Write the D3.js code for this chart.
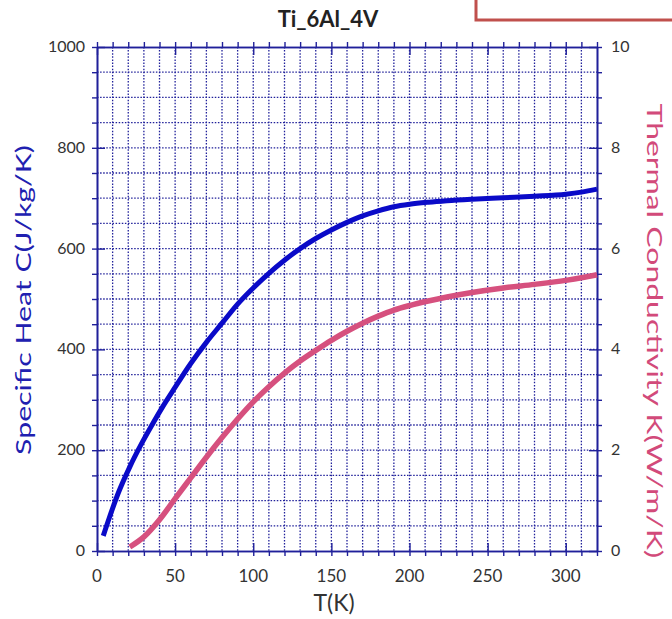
<!DOCTYPE html>
<html>
<head>
<meta charset="utf-8">
<script src="https://cdn.jsdelivr.net/npm/d3@7"></script>
<style>
  body { margin: 0; background: #fff; }
  text { font-family: Lato, "Open Sans", sans-serif; }
</style>
</head>
<body>
<div id="wrapper"></div>
<script>
// Ti_6Al_4V specific heat and thermal conductivity vs temperature
const heatT = [4, 8, 14, 21, 28, 35, 42, 49, 60, 70, 80, 90, 100, 110, 120, 130, 140, 150, 160, 170, 180, 190, 200, 212, 224, 240, 260, 280, 300, 310, 320]
const heatC = [30, 67, 118, 167, 210, 249, 286, 320, 372, 414, 452, 490, 522, 551, 577, 600, 620, 637, 652, 665, 675, 683, 688, 692, 695, 698, 701, 704, 708, 712, 718]

const condT = [21, 30, 40, 50, 60, 70, 80, 90, 100, 110, 120, 130, 140, 150, 160, 170, 180, 190, 200, 212, 224, 240, 260, 280, 300, 310, 320]
const condK = [0.08, 0.28, 0.62, 1.04, 1.45, 1.86, 2.25, 2.62, 2.96, 3.26, 3.53, 3.77, 3.98, 4.18, 4.36, 4.52, 4.66, 4.78, 4.87, 4.96, 5.04, 5.13, 5.22, 5.29, 5.37, 5.42, 5.48]

const xTicks = [0, 50, 100, 150, 200, 250, 300]
const yLeftTicks = [0, 200, 400, 600, 800, 1000]
const yRightTicks = [0, 2, 4, 6, 8, 10]

const heatData = heatT.map((t, i) => ({t: t, v: heatC[i]}))
const condData = condT.map((t, i) => ({t: t, v: condK[i]}))

let dimensions = {
  width: 672,
  height: 619,
  margin: {
    top: 47,
    right: 75,
    bottom: 68,
    left: 97,
  },
}
dimensions.boundedWidth = dimensions.width
  - dimensions.margin.left
  - dimensions.margin.right
dimensions.boundedHeight = dimensions.height
  - dimensions.margin.top
  - dimensions.margin.bottom

const navy = "#20209a"

const wrapper = d3.select("#wrapper")
  .append("svg")
    .attr("width", dimensions.width)
    .attr("height", dimensions.height)

// clipped legend box in the top right corner
wrapper.append("rect")
  .attr("x", 476).attr("y", -20)
  .attr("width", 240).attr("height", 40)
  .attr("fill", "none")
  .attr("stroke", "#c0504d")
  .attr("stroke-width", 3)

wrapper.append("text")
  .attr("x", 328).attr("y", 27)
  .attr("text-anchor", "middle")
  .style("font-size", "22px")
  .style("font-weight", "bold")
  .attr("fill", "#222")
  .text("Ti_6Al_4V")

const bounds = wrapper.append("g")
  .attr("transform", `translate(${dimensions.margin.left},${dimensions.margin.top})`)

const xScale = d3.scaleLinear()
  .domain([0, 320])
  .range([0, dimensions.boundedWidth])

const yLeft = d3.scaleLinear()
  .domain([0, 1000])
  .range([dimensions.boundedHeight, 0])

const yRight = d3.scaleLinear()
  .domain([0, 10])
  .range([dimensions.boundedHeight, 0])

// dotted grid
const gridX = d3.range(10, 320, 10)
const gridY = d3.range(50, 1000, 50)

bounds.append("g").selectAll("line")
  .data(gridX)
  .join("line")
    .attr("x1", d => xScale(d)).attr("x2", d => xScale(d))
    .attr("y1", 0).attr("y2", dimensions.boundedHeight)
    .attr("stroke", navy)
    .attr("stroke-width", 1.3)
    .attr("stroke-dasharray", "1.5,1.6")

bounds.append("g").selectAll("line")
  .data(gridY)
  .join("line")
    .attr("y1", d => yLeft(d)).attr("y2", d => yLeft(d))
    .attr("x1", 0).attr("x2", dimensions.boundedWidth)
    .attr("stroke", navy)
    .attr("stroke-width", 1.3)
    .attr("stroke-dasharray", "1.5,1.6")

// axes: minor ticks outside, major ticks inside
function styleAxis(g) {
  g.select(".domain").attr("stroke", navy).attr("stroke-width", 1.6)
  g.selectAll(".tick line").attr("stroke", navy).attr("stroke-width", 1.4)
  g.selectAll(".tick text").remove()
}

const xMinor = d3.range(0, 321, 10)
const yMinor = d3.range(0, 1001, 50)
const yRMinor = d3.range(0, 10.01, 0.5)

bounds.append("g")
  .attr("transform", `translate(0,${dimensions.boundedHeight})`)
  .call(d3.axisBottom(xScale).tickValues(xMinor).tickSize(5).tickSizeOuter(0))
  .call(styleAxis)
bounds.append("g")
  .attr("transform", `translate(0,${dimensions.boundedHeight})`)
  .call(d3.axisTop(xScale).tickValues(xTicks).tickSize(8).tickSizeOuter(0))
  .call(styleAxis)
bounds.append("g")
  .call(d3.axisTop(xScale).tickValues(xMinor).tickSize(5).tickSizeOuter(0))
  .call(styleAxis)
bounds.append("g")
  .call(d3.axisBottom(xScale).tickValues(xTicks).tickSize(8).tickSizeOuter(0))
  .call(styleAxis)

bounds.append("g")
  .call(d3.axisLeft(yLeft).tickValues(yMinor).tickSize(5).tickSizeOuter(0))
  .call(styleAxis)
bounds.append("g")
  .call(d3.axisRight(yLeft).tickValues(yLeftTicks).tickSize(8).tickSizeOuter(0))
  .call(styleAxis)
bounds.append("g")
  .attr("transform", `translate(${dimensions.boundedWidth},0)`)
  .call(d3.axisRight(yRight).tickValues(yRMinor).tickSize(5).tickSizeOuter(0))
  .call(styleAxis)
bounds.append("g")
  .attr("transform", `translate(${dimensions.boundedWidth},0)`)
  .call(d3.axisLeft(yRight).tickValues(yRightTicks).tickSize(8).tickSizeOuter(0))
  .call(styleAxis)

// tick labels
bounds.append("g").selectAll("text")
  .data(xTicks)
  .join("text")
    .attr("x", d => xScale(d))
    .attr("y", dimensions.boundedHeight + 31)
    .attr("text-anchor", "middle")
    .style("font-size", "17px")
    .attr("fill", "#333")
    .text(d => d)

bounds.append("g").selectAll("text")
  .data(yLeftTicks)
  .join("text")
    .attr("x", -12)
    .attr("y", d => yLeft(d) + 5)
    .attr("text-anchor", "end")
    .style("font-size", "16px")
    .attr("fill", "#333")
    .text(d => d)

bounds.append("g").selectAll("text")
  .data(yRightTicks)
  .join("text")
    .attr("x", dimensions.boundedWidth + 14)
    .attr("y", d => yRight(d) + 5)
    .attr("text-anchor", "start")
    .style("font-size", "16px")
    .attr("fill", "#333")
    .text(d => d)

// axis titles (stretched along their length like the reference)
wrapper.append("text")
  .attr("x", 334).attr("y", 611)
  .attr("text-anchor", "middle")
  .style("font-size", "23px")
  .attr("fill", "#333")
  .text("T(K)")

function stretchedLabel(cx, cy, angle, len, color, label) {
  const g = wrapper.append("g")
    .attr("transform", `translate(${cx},${cy}) rotate(${angle})`)
  const t = g.append("text")
    .attr("text-anchor", "middle")
    .style("font-size", "21px")
    .attr("fill", color)
    .text(label)
  const w = t.node().getComputedTextLength()
  t.attr("transform", `scale(${len / w},1)`)
}

stretchedLabel(31, 300, -90, 310, "#2020b0", "Specific Heat C(J/kg/K)")
stretchedLabel(647, 331, 90, 455, "#d24a7a", "Thermal Conductivity K(W/m/K)")

// curves
const heatLine = d3.line()
  .x(d => xScale(d.t))
  .y(d => yLeft(d.v))
  .curve(d3.curveMonotoneX)

const condLine = d3.line()
  .x(d => xScale(d.t))
  .y(d => yRight(d.v))
  .curve(d3.curveMonotoneX)

bounds.append("path")
  .datum(condData)
  .attr("d", condLine)
  .attr("fill", "none")
  .attr("stroke", "#d6507e")
  .attr("stroke-width", 5.5)

bounds.append("path")
  .datum(heatData)
  .attr("d", heatLine)
  .attr("fill", "none")
  .attr("stroke", "#0a0ac8")
  .attr("stroke-width", 5)
</script>
</body>
</html>
